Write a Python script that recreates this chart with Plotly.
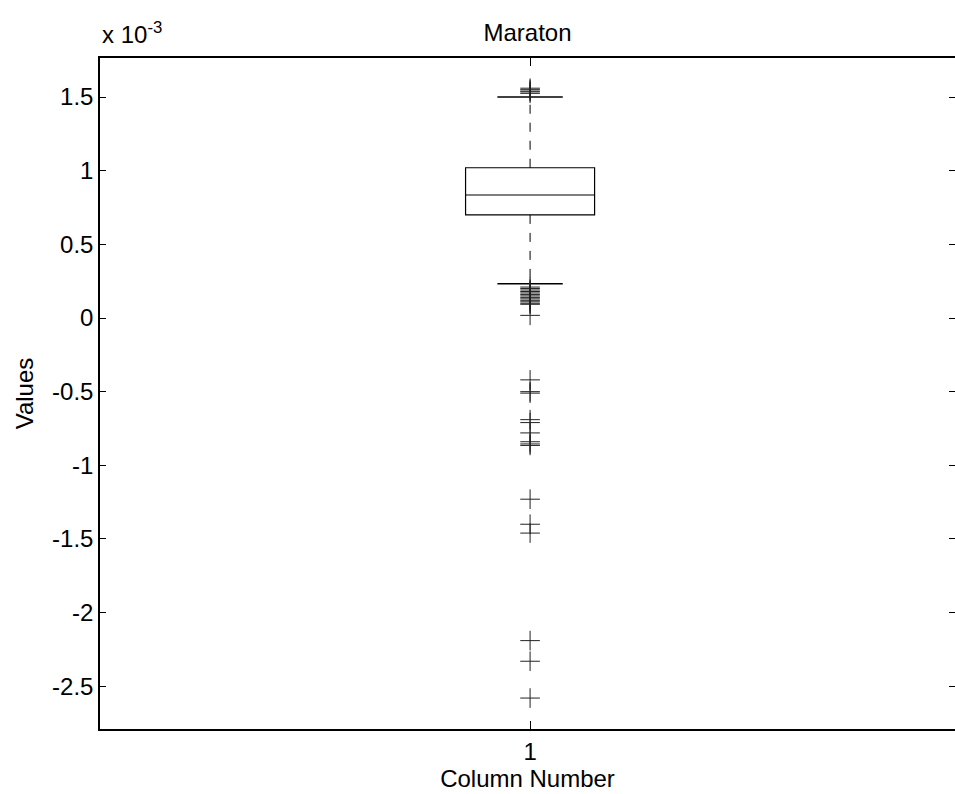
import plotly.graph_objects as go

# Box statistics
stat_q1 = [0.70e-3]
stat_median = [0.835e-3]
stat_q3 = [1.02e-3]
whisker_low = [0.232e-3]
whisker_high = [1.50e-3]

# Outlying observations
outliers = [
    1.525e-3, 1.535e-3, 1.54e-3, 1.55e-3, 1.56e-3,
    0.21e-3, 0.20e-3, 0.19e-3, 0.18e-3, 0.17e-3, 0.16e-3, 0.15e-3,
    0.14e-3, 0.13e-3, 0.12e-3, 0.11e-3, 0.10e-3, 0.093e-3, 0.018e-3,
    -0.42e-3, -0.50e-3, -0.51e-3, -0.69e-3, -0.71e-3, -0.78e-3,
    -0.84e-3, -0.855e-3, -0.865e-3,
    -1.23e-3, -1.40e-3, -1.46e-3,
    -2.19e-3, -2.33e-3, -2.58e-3,
]

column = [1]
tick_values = [-2.5e-3, -2e-3, -1.5e-3, -1e-3, -0.5e-3, 0, 0.5e-3, 1e-3, 1.5e-3]
tick_labels = ["-2.5", "-2", "-1.5", "-1", "-0.5", "0", "0.5", "1", "1.5"]

FONT = "Liberation Sans, Arial, Helvetica, sans-serif"
FS = 24
BOX_W = 0.15
CAP_HALF = 0.038
Y_RANGE = [-2.79e-3, 1.765e-3]

fig = go.Figure()

# Box with median line; whiskers drawn separately as dashed lines
fig.add_trace(go.Box(
    x=column, q1=stat_q1, median=stat_median, q3=stat_q3,
    lowerfence=stat_q1, upperfence=stat_q3,
    width=BOX_W, whiskerwidth=0,
    line=dict(color="black", width=1.2),
    fillcolor="rgba(255,255,255,0)",
    boxpoints=False, showlegend=False, hoverinfo="skip",
))

c = column[0]
fig.add_trace(go.Scatter(
    x=[c, c, None, c, c],
    y=[stat_q3[0], whisker_high[0], None, stat_q1[0], whisker_low[0]],
    mode="lines", line=dict(color="black", width=1, dash="dash"),
    showlegend=False, hoverinfo="skip",
))
fig.add_trace(go.Scatter(
    x=[c - CAP_HALF, c + CAP_HALF, None, c - CAP_HALF, c + CAP_HALF],
    y=[whisker_high[0], whisker_high[0], None, whisker_low[0], whisker_low[0]],
    mode="lines", line=dict(color="black", width=1.5),
    showlegend=False, hoverinfo="skip",
))
fig.add_trace(go.Scatter(
    x=[c] * len(outliers), y=outliers, mode="markers",
    marker=dict(symbol="cross-thin", size=14, line=dict(color="#222222", width=1)),
    showlegend=False, hoverinfo="skip",
))

# Tick marks on the right-hand side
fig.add_trace(go.Scatter(x=[None], y=[None], yaxis="y2", showlegend=False))

fig.update_layout(
    width=955, height=794,
    margin=dict(l=100, r=0, t=58, b=65),
    paper_bgcolor="white", plot_bgcolor="white",
    font=dict(family=FONT, size=FS, color="black"),
    title=dict(text="Maraton", x=0.5, xref="paper", xanchor="center",
               y=1, yref="paper", yanchor="bottom", pad=dict(b=17),
               font=dict(size=FS)),
    xaxis=dict(
        range=[0.5, 1.494], tickvals=column, ticktext=["1"],
        ticks="inside", ticklen=8, tickcolor="black",
        showline=True, linecolor="black", linewidth=1.5, mirror="ticks",
        showgrid=False, zeroline=False,
        title=dict(text="Column Number", standoff=2, font=dict(size=FS)),
    ),
    yaxis=dict(
        range=Y_RANGE, tickvals=tick_values, ticktext=tick_labels,
        ticks="inside", ticklen=6, tickcolor="black",
        showline=True, linecolor="black", linewidth=1.5,
        showgrid=False, zeroline=False,
        title=dict(text="Values", standoff=12, font=dict(size=FS)),
    ),
    yaxis2=dict(
        overlaying="y", side="right", range=Y_RANGE,
        tickvals=tick_values, ticks="inside", ticklen=6, tickcolor="black",
        showticklabels=False, showline=False, showgrid=False, zeroline=False,
    ),
    annotations=[dict(
        text="x 10<sup>-3</sup>", xref="paper", yref="paper", x=0, y=1,
        xanchor="left", yanchor="bottom", yshift=8, showarrow=False,
        font=dict(size=FS),
    )],
)

fig.write_html("out.html")
